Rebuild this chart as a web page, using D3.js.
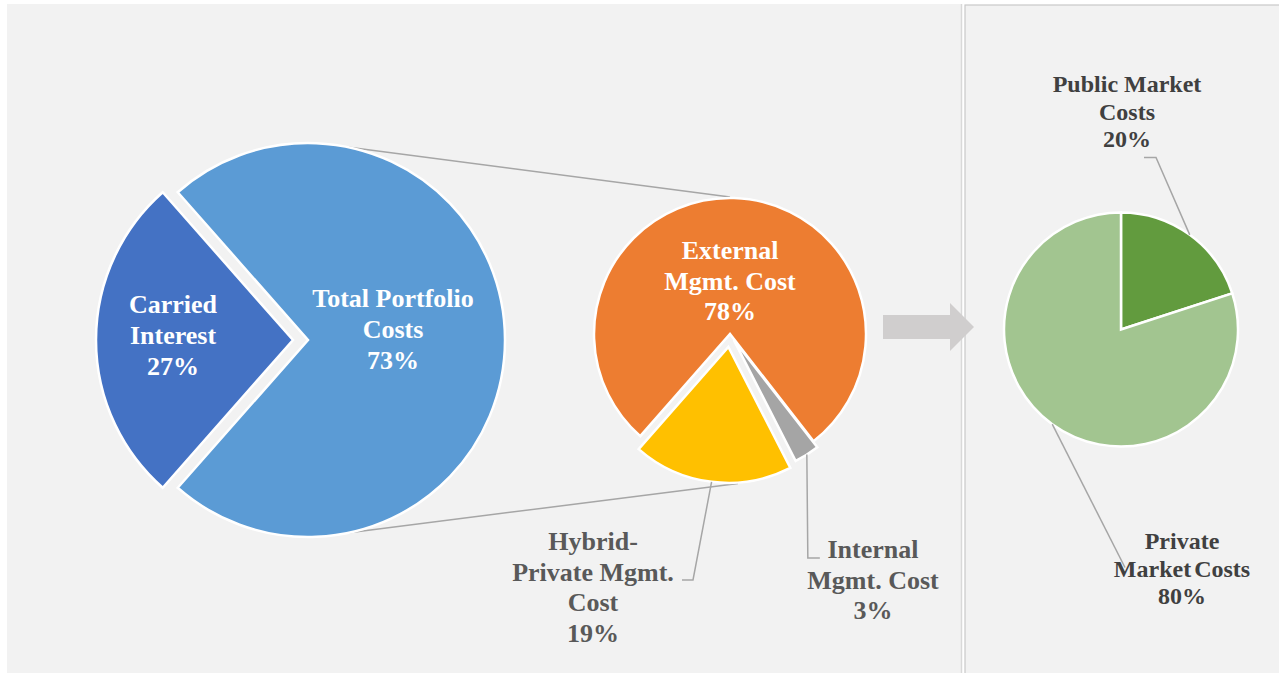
<!DOCTYPE html>
<html>
<head>
<meta charset="utf-8">
<script src="https://cdn.jsdelivr.net/npm/d3@7"></script>
<style>
  html, body { margin: 0; padding: 0; background: #ffffff; }
  svg { display: block; }
  text { font-family: "Liberation Serif", "Times New Roman", serif; font-weight: bold; }
</style>
</head>
<body>
<svg id="chart" width="1279" height="673"></svg>
<script>
// ---- DATA ----
const mainCategories = ["Carried Interest", "Total Portfolio Costs"];
const mainLabelLines = [["Carried", "Interest"], ["Total Portfolio", "Costs"]];
const mainValues = [27, 73];
const mainColors = ["#4472c4", "#5b9bd5"];

const subCategories = ["External Mgmt. Cost", "Internal Mgmt. Cost", "Hybrid-Private Mgmt. Cost"];
const subLabelLines = [["External", "Mgmt. Cost"], ["Internal", "Mgmt. Cost"], ["Hybrid-", "Private Mgmt.", "Cost"]];
const subValues = [78, 3, 19];
const subColors = ["#ed7d31", "#a5a5a5", "#ffc000"];

const marketCategories = ["Public Market Costs", "Private Market Costs"];
const marketLabelLines = [["Public Market", "Costs"], ["Private", "Market Costs"]];
const marketValues = [20, 80];
const marketColors = ["#629b3e", "#a2c590"];

// ---- LAYOUT ----
const svg = d3.select("#chart");
const deg = Math.PI / 180;
const polar = (c, a, r) => [c[0] + Math.sin(a) * r, c[1] - Math.cos(a) * r];

// panels
svg.append("rect").attr("x", 7).attr("y", 4).attr("width", 955).attr("height", 669).attr("fill", "#f2f2f2");
svg.append("line").attr("x1", 961.5).attr("x2", 961.5).attr("y1", 4).attr("y2", 673).attr("stroke", "#d9d9d9").attr("stroke-width", 1.5);
svg.append("rect").attr("x", 965).attr("y", 5).attr("width", 320).attr("height", 680)
  .attr("fill", "#f2f2f2").attr("stroke", "#c9c9c9").attr("stroke-width", 1.2);

const leader = "#a6a6a6";

// ---------- main pie ----------
const mC = [308, 340], mR = 197;
const mainPie = d3.pie().sort(null).value(d => d)
  .startAngle(-90 * deg - Math.PI * mainValues[0] / 100)
  .endAngle(-90 * deg - Math.PI * mainValues[0] / 100 + 2 * Math.PI);
const mainArcs = mainPie(mainValues);
const mainExplode = [15, 0];
const mArc = d3.arc().innerRadius(0).outerRadius(mR);

// connector lines big pie -> sub pie (drawn first, behind)
const sC = [730, 334], sR = 136;
const subPie = d3.pie().sort(null).value(d => d)
  .startAngle(221.3 * deg).endAngle(221.3 * deg + 2 * Math.PI);
const subArcs = subPie(subValues);
const subExplode = [0, 7, 13];
const sArc = d3.arc().innerRadius(0).outerRadius(sR);
const offsetOf = (a, e) => { const m = (a.startAngle + a.endAngle) / 2; return [Math.sin(m) * e, -Math.cos(m) * e]; };

const yOff = offsetOf(subArcs[2], subExplode[2]);
const p1 = polar(mC, 12 * deg, mR), p2 = polar(sC, 0, sR + 1);
const p3 = polar(mC, 168 * deg, mR), p4 = polar([sC[0] + yOff[0], sC[1] + yOff[1]], 176 * deg, sR + 1);
svg.append("line").attr("x1", p1[0]).attr("y1", p1[1]).attr("x2", p2[0]).attr("y2", p2[1])
  .attr("stroke", leader).attr("stroke-width", 1.5);
svg.append("line").attr("x1", p3[0]).attr("y1", p3[1]).attr("x2", p4[0]).attr("y2", p4[1])
  .attr("stroke", leader).attr("stroke-width", 1.5);

const mg = svg.append("g").attr("transform", `translate(${mC[0]},${mC[1]})`);
mg.selectAll("path").data(mainArcs).join("path")
  .attr("d", mArc)
  .attr("transform", (d, i) => { const o = offsetOf(d, mainExplode[i]); return `translate(${o[0]},${o[1]})`; })
  .attr("fill", (d, i) => mainColors[i])
  .attr("stroke", "#ffffff").attr("stroke-width", 2.5).attr("stroke-linejoin", "miter");

function multiLine(g, x, y, lines, size, color, lh) {
  const t = g.append("text").attr("x", x).attr("y", y).attr("text-anchor", "middle")
    .attr("font-size", size).attr("fill", color);
  lines.forEach((l, i) => t.append("tspan").attr("x", x).attr("y", y + i * lh).text(l));
  return t;
}

// main labels
const mainLabelPos = [[-135, -27], [85, -33]];
mainArcs.forEach((a, i) => {
  multiLine(mg, mainLabelPos[i][0], mainLabelPos[i][1],
    [...mainLabelLines[i], mainValues[i] + "%"], 26, "#ffffff", 31);
});

// ---------- sub pie ----------
const sg = svg.append("g").attr("transform", `translate(${sC[0]},${sC[1]})`);
sg.selectAll("path").data(subArcs).join("path")
  .attr("d", sArc)
  .attr("transform", (d, i) => { const o = offsetOf(d, subExplode[i]); return `translate(${o[0]},${o[1]})`; })
  .attr("fill", (d, i) => subColors[i])
  .attr("stroke", "#ffffff").attr("stroke-width", 2.5);

// External label (inside)
multiLine(sg, 0, -75, [...subLabelLines[0], subValues[0] + "%"], 26, "#ffffff", 30.5);

// Internal label with leader
{
  const a = subArcs[1], o = offsetOf(a, subExplode[1]);
  const m = (a.startAngle + a.endAngle) / 2;
  const e = polar([o[0], o[1]], m, sR);
  const lx = 143, ly = 224;
  sg.append("polyline").attr("points", [[e[0], e[1]], [e[0] + 1, ly], [e[0] + 13, ly]].join(" "))
    .attr("fill", "none").attr("stroke", leader).attr("stroke-width", 1.5);
  multiLine(sg, lx, ly, [...subLabelLines[1], subValues[1] + "%"], 26, "#595959", 30.5);
}
// Hybrid label with leader
{
  const a = subArcs[2], o = offsetOf(a, subExplode[2]);
  const m = (a.startAngle + a.endAngle) / 2;
  const e = polar([o[0], o[1]], m, sR);
  const lx = -137, ly = 216;
  sg.append("polyline").attr("points", [[e[0], e[1]], [-37, 246], [-48, 246]].join(" "))
    .attr("fill", "none").attr("stroke", leader).attr("stroke-width", 1.5);
  multiLine(sg, lx, ly, [...subLabelLines[2], subValues[2] + "%"], 26, "#595959", 30.7);
}

// ---------- arrow ----------
svg.append("path")
  .attr("d", "M883,315 L950,315 L950,303 L974,327 L950,351 L950,339 L883,339 Z")
  .attr("fill", "#d0cece");

// ---------- market pie ----------
const rC = [1121, 329.5], rR = 117;
const rPie = d3.pie().sort(null).value(d => d).startAngle(0).endAngle(2 * Math.PI);
const rArcs = rPie(marketValues);
const rArc = d3.arc().innerRadius(0).outerRadius(rR);
const rg = svg.append("g").attr("transform", `translate(${rC[0]},${rC[1]})`);
rg.selectAll("path").data(rArcs).join("path")
  .attr("d", rArc)
  .attr("fill", (d, i) => marketColors[i])
  .attr("stroke", "#ffffff").attr("stroke-width", 2.5);

{
  const a = rArcs[0], m = (a.startAngle + a.endAngle) / 2;
  const e = polar([0, 0], m, rR);
  rg.append("polyline").attr("points", [[e[0], e[1]], [35, -172], [23, -172]].join(" "))
    .attr("fill", "none").attr("stroke", leader).attr("stroke-width", 1.5);
  multiLine(rg, 6, -237.5, [...marketLabelLines[0], marketValues[0] + "%"], 24, "#404040", 27.5);
}
{
  const a = rArcs[1], m = (a.startAngle + a.endAngle) / 2;
  const e = polar([0, 0], m, rR);
  rg.append("polyline").attr("points", [[e[0], e[1]], [4, 238]].join(" "))
    .attr("fill", "none").attr("stroke", leader).attr("stroke-width", 1.5);
  const t = multiLine(rg, 61, 219.5, [...marketLabelLines[1], marketValues[1] + "%"], 24, "#404040", 27.5);
  t.selectAll("tspan").filter((d, i) => i === 1).attr("word-spacing", "-3");
}
</script>
</body>
</html>
